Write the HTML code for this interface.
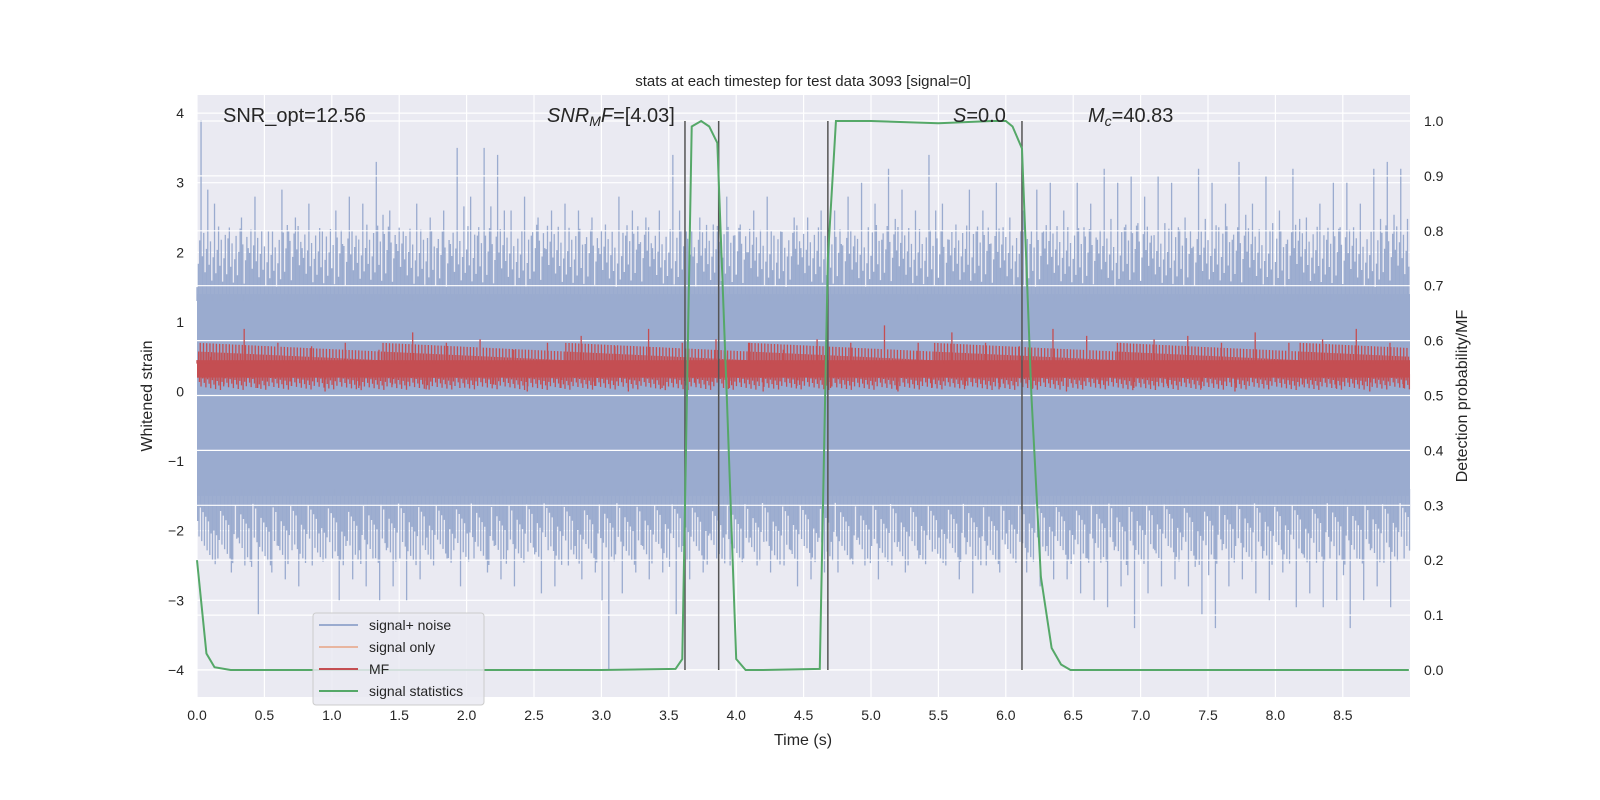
<!DOCTYPE html>
<html><head><meta charset="utf-8"><style>
html,body{margin:0;padding:0;background:#fff;}
svg{display:block;font-family:"Liberation Sans","DejaVu Sans",sans-serif;}
</style></head><body>
<svg id="chart" width="1600" height="800" viewBox="0 0 1600 800">
<rect x="197" y="95" width="1213" height="602" fill="#eaeaf2"/>
<g id="grid"></g>
<g id="noise"></g>
<g id="mf"></g>
<g id="vlines"></g>
<g id="green"></g>
<g id="axes"></g>
<text x="803" y="86" font-size="15" text-anchor="middle" fill="#262626">stats at each timestep for test data 3093 [signal=0]</text>
<text x="223" y="122" font-size="20" fill="#262626">SNR_opt=12.56</text>
<text x="547" y="122" font-size="20" fill="#262626"><tspan font-style="italic">SNR</tspan><tspan font-style="italic" font-size="14" dy="4">M</tspan><tspan font-style="italic" dy="-4">F</tspan>=[4.03]</text>
<text x="953" y="122" font-size="20" fill="#262626"><tspan font-style="italic">S</tspan>=0.0</text>
<text x="1088" y="122" font-size="20" fill="#262626"><tspan font-style="italic">M</tspan><tspan font-style="italic" font-size="14" dy="4">c</tspan><tspan dy="-4">=40.83</tspan></text>
<text x="803" y="745" font-size="16" text-anchor="middle" fill="#262626">Time (s)</text>
<text transform="translate(152,396) rotate(-90)" font-size="16" text-anchor="middle" fill="#262626">Whitened strain</text>
<text transform="translate(1467,396) rotate(-90)" font-size="16" text-anchor="middle" fill="#262626">Detection probability/MF</text>
<g>
<rect x="313" y="613" width="171" height="92" rx="3" fill="#eaeaf2" fill-opacity="0.85" stroke="#cccccc"/>
<g><line x1="319" y1="625" x2="358" y2="625" stroke="#9aabcf" stroke-width="2"/><text x="369" y="630" font-size="14" fill="#262626">signal+ noise</text></g>
<g><line x1="319" y1="647" x2="358" y2="647" stroke="#e8b59f" stroke-width="2"/><text x="369" y="652" font-size="14" fill="#262626">signal only</text></g>
<g><line x1="319" y1="669" x2="358" y2="669" stroke="#c44e52" stroke-width="2"/><text x="369" y="674" font-size="14" fill="#262626">MF</text></g>
<g><line x1="319" y1="691" x2="358" y2="691" stroke="#55a868" stroke-width="2"/><text x="369" y="696" font-size="14" fill="#262626">signal statistics</text></g>
</g>
</svg>
<script>
const xTicks=[0,0.5,1,1.5,2,2.5,3,3.5,4,4.5,5,5.5,6,6.5,7,7.5,8,8.5];
const xTickLabels=["0.0","0.5","1.0","1.5","2.0","2.5","3.0","3.5","4.0","4.5","5.0","5.5","6.0","6.5","7.0","7.5","8.0","8.5"];
const yTicks=[-4,-3,-2,-1,0,1,2,3,4];
const yTickLabels=["\u22124","\u22123","\u22122","\u22121","0","1","2","3","4"];
const rTicks=[0,0.1,0.2,0.3,0.4,0.5,0.6,0.7,0.8,0.9,1.0];
const rTickLabels=["0.0","0.1","0.2","0.3","0.4","0.5","0.6","0.7","0.8","0.9","1.0"];
const noiseUpper=[3.9,2.7,2.2,2.5,2.8,2.3,2.9,2.5,2.7,2.3,2.6,2.8,2.7,3.3,2.6,2.3,2.7,2.5,2.6,3.5,2.8,3.5,3.4,2.6,2.8,2.5,2.6,2.7,2.6,2.5,2.4,2.8,2.6,2.5,2.6,3.4,2.3,2.5,2.4,2.8,2.4,2.6,2.8,2.3,2.5,2.5,2.6,2.6,2.8,3.0,2.7,3.2,2.9,2.6,3.4,2.7,2.4,2.9,2.6,3.0,2.5,2.6,2.9,3.0,2.6,3.0,2.7,3.2,3.0,3.1,2.8,3.1,3.0,2.5,3.2,3.0,2.7,3.3,2.7,3.1,2.6,3.2,2.5,2.7,3.0,3.0,2.7,3.2,3.3,3.2];
const noiseLower=[-2.1,-2.4,-2.6,-2.5,-3.2,-2.6,-2.7,-2.8,-2.5,-2.4,-3.0,-2.7,-2.8,-3.0,-2.8,-3.0,-2.7,-2.5,-2.4,-2.8,-2.4,-2.6,-2.7,-2.8,-2.3,-2.9,-2.8,-2.5,-2.7,-2.6,-4.0,-2.9,-2.6,-2.7,-2.6,-3.2,-2.7,-2.6,-2.4,-2.5,-2.4,-2.5,-2.6,-2.5,-2.8,-2.7,-2.6,-2.6,-2.4,-2.5,-2.7,-2.5,-2.6,-2.4,-2.3,-2.5,-2.7,-2.9,-2.5,-2.6,-2.4,-2.6,-2.8,-2.7,-2.7,-2.9,-3.0,-3.1,-2.8,-3.4,-2.9,-2.8,-2.7,-2.8,-3.2,-3.4,-2.8,-2.7,-2.9,-3.0,-2.6,-3.1,-2.9,-3.1,-3.0,-3.4,-3.0,-2.8,-3.1,-2.4];
const mfUpper=[0.5,0.9,0.7,0.65,0.7,0.6,0.85,0.7,0.75,0.6,0.7,0.8,0.65,0.9,0.7,0.75,0.7,0.6,0.75,0.7,0.95,0.7,0.85,0.7,0.65,0.9,0.8,0.7,0.75,0.8,0.7,0.85,0.7,0.75,0.9,0.7];
const mfLower=[0.1,0.05,0.08,0.0,0.05,0.1,0.03,0.05,0.1,0.0,0.05,0.08,0.0,0.05,0.1,0.05,0.0,0.08,0.05,0.1,0.0,0.05,0.08,0.03,0.05,0.0,0.1,0.05,0.08,0.05,0.0,0.05,0.1,0.05,0.0,0.05];
const statTimes=[0,0.07,0.13,0.25,1,2,3,3.55,3.6,3.67,3.74,3.8,3.86,3.93,4.0,4.07,4.2,4.62,4.68,4.74,5.0,5.5,5.9,6.0,6.05,6.12,6.19,6.26,6.34,6.41,6.48,7,8,8.99];
const statValues=[0.2,0.03,0.005,0.0,0.0,0.0,0.0,0.002,0.02,0.99,1.0,0.99,0.96,0.5,0.02,0.0,0.0,0.002,0.75,1.0,1.0,0.996,1.0,1.0,0.99,0.95,0.5,0.17,0.04,0.01,0.0,0.0,0.0,0.0];
const detectLines=[3.62,3.87,4.68,6.12];
const NS="http://www.w3.org/2000/svg";
const X0=197,X1=1410,Y0=95,Y1=697;
const xs=t=>197+t*134.8;
const ys=v=>391.5-v*69.6;
const yr=p=>670-p*549;
function el(tag,attrs,parent){const e=document.createElementNS(NS,tag);for(const k in attrs)e.setAttribute(k,attrs[k]);parent.appendChild(e);return e;}
const grid=document.getElementById('grid'),axes=document.getElementById('axes');
xTicks.forEach((t,i)=>{
 const g=el('line',{x1:xs(t),x2:xs(t),y1:Y0,y2:Y1,stroke:'#fff','stroke-width':1.2},grid);
 
 
 const tx=el('text',{x:xs(t),y:720,'font-size':14,'text-anchor':'middle',fill:'#262626'},axes);tx.textContent=xTickLabels[i];
 
 
});
yTicks.forEach((v,i)=>{
 const g=el('line',{x1:X0,x2:X1,y1:ys(v),y2:ys(v),stroke:'#fff','stroke-width':1.2},grid);
 
 
 const tx=el('text',{x:184,y:ys(v)+5,'font-size':14,'text-anchor':'end',fill:'#262626'},axes);tx.textContent=yTickLabels[i];
 
 
});
rTicks.forEach((p,i)=>{
 const tx=el('text',{x:1424,y:yr(p)+5,'font-size':14,fill:'#262626'},axes);tx.textContent=rTickLabels[i];
 
 
});
const noise=document.getElementById('noise');
const core=el('rect',{x:X0,y:ys(1.4),width:X1-X0,height:ys(-1.5)-ys(1.4),fill:'#9aabcf'},noise);


let d='';
noiseUpper.forEach((u,i)=>{
 const t=i*0.1;
 d+=`M${xs(t+0.03)},${ys(1.3)}L${xs(t+0.03)},${ys(u)}`;
 d+=`M${xs(t+0.08)},${ys(1.3)}L${xs(t+0.08)},${ys(1.4+(u-1.4)*0.6)}`;
 d+=`M${xs(t+0.055)},${ys(-1.4)}L${xs(t+0.055)},${ys(noiseLower[i])}`;
 d+=`M${xs(t+0.005)},${ys(-1.4)}L${xs(t+0.005)},${ys(-1.5+(noiseLower[i]+1.5)*0.6)}`;
});
for(let t=0;t<8.99;t+=0.01){d+=`M${xs(t)},${ys(1.3)}L${xs(t)},${ys(1.5+((t*37.3)%1)*0.9)}M${xs(t+0.005)},${ys(-1.4)}L${xs(t+0.005)},${ys(-1.6-((t*53.7)%1)*0.9)}`;}
const np=el('path',{d:d,stroke:'#9aabcf','stroke-width':1.3,fill:'none'},noise);


rTicks.forEach(p=>{
 const g=el('line',{x1:X0,x2:X1,y1:yr(p),y2:yr(p),stroke:'#fff','stroke-width':1.2},noise);
 
 
});
const mf=document.getElementById('mf');
const mfr=el('rect',{x:X0,y:ys(0.45),width:X1-X0,height:ys(0.2)-ys(0.45),fill:'#c44e52'},mf);


let md='';
mfUpper.forEach((u,i)=>{const t=i*0.25;
 md+=`M${xs(t+0.1)},${ys(0.4)}L${xs(t+0.1)},${ys(u)}M${xs(t+0.2)},${ys(0.25)}L${xs(t+0.2)},${ys(mfLower[i])}`;});
for(let t=0;t<8.99;t+=0.012){md+=`M${xs(t)},${ys(0.4)}L${xs(t)},${ys(0.45+((t*41.3)%1)*0.25)}M${xs(t+0.006)},${ys(0.25)}L${xs(t+0.006)},${ys(0.2-((t*29.7)%1)*0.18)}`;}
const mp=el('path',{d:md,stroke:'#c44e52','stroke-width':1.3,fill:'none'},mf);


const vl=document.getElementById('vlines');
detectLines.forEach(t=>{
 const l=el('line',{x1:xs(t),x2:xs(t),y1:yr(1),y2:yr(0),stroke:'#555','stroke-width':1.5},vl);
 
 
});
const gp=el('polyline',{points:statTimes.map((t,i)=>xs(t)+','+yr(statValues[i])).join(' '),fill:'none',stroke:'#55a868','stroke-width':2},document.getElementById('green'));


</script>
</body></html>
